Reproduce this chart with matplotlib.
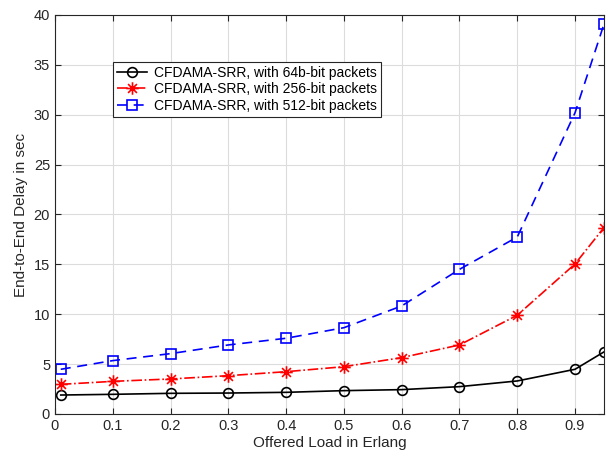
import numpy as np
import matplotlib
matplotlib.use('Agg')
import matplotlib.pyplot as plt
from matplotlib.path import Path

plt.rcParams['font.family'] = ['Liberation Sans', 'DejaVu Sans']

load = [0.01, 0.1, 0.2, 0.3, 0.4, 0.5, 0.6, 0.7, 0.8, 0.9, 0.95]
delay_64 = [1.9, 1.97, 2.07, 2.1, 2.17, 2.34, 2.44, 2.74, 3.31, 4.48, 6.22]
delay_256 = [2.97, 3.27, 3.51, 3.84, 4.24, 4.74, 5.65, 6.92, 9.9, 15.04, 18.68]
delay_512 = [4.48, 5.35, 6.05, 6.92, 7.59, 8.65, 10.83, 14.5, 17.74, 30.2, 39.07]
labels = ['CFDAMA-SRR, with 64b-bit packets',
          'CFDAMA-SRR, with 256-bit packets',
          'CFDAMA-SRR, with 512-bit packets']

# matlab style asterisk: 4 strokes through the centre
verts = []
codes = []
for a in np.deg2rad([90, 0, 45, 135]):
    verts += [(np.cos(a), np.sin(a)), (-np.cos(a), -np.sin(a))]
    codes += [Path.MOVETO, Path.LINETO]
star = Path(verts, codes)

fig = plt.figure(figsize=(6.15, 4.61), dpi=100)
ax = fig.add_axes([0.0894, 0.102, 0.8926, 0.8655])

ax.plot(load, delay_64, color='k', linestyle='-', marker='o', markersize=7,
        markerfacecolor='none', markeredgewidth=1.2, linewidth=1.2, label=labels[0])
ax.plot(load, delay_256, color='r', linestyle='-.', marker=star, markersize=9,
        markeredgewidth=1.2, linewidth=1.2, label=labels[1])
ax.plot(load, delay_512, color='b', linestyle=(0, (6, 4)), marker='s', markersize=6.5,
        markerfacecolor='none', markeredgewidth=1.2, linewidth=1.2, label=labels[2])

ax.set_xlim(0, 0.95)
ax.set_ylim(0, 40)
ax.set_xticks([0, 0.1, 0.2, 0.3, 0.4, 0.5, 0.6, 0.7, 0.8, 0.9])
ax.set_xticklabels(['0', '0.1', '0.2', '0.3', '0.4', '0.5', '0.6', '0.7', '0.8', '0.9'])
ax.set_yticks(range(0, 41, 5))
ax.grid(True, color='#dcdcdc', linewidth=0.8)
ax.set_axisbelow(True)
ax.tick_params(direction='in', labelsize=10.5, colors='#262626', top=True, right=True, length=4)
for s in ax.spines.values():
    s.set_color('#262626')
    s.set_linewidth(0.8)

ax.set_xlabel('Offered Load in Erlang', fontsize=11, color='#262626', labelpad=2)
ax.set_ylabel('End-to-End Delay in sec', fontsize=11, color='#262626', labelpad=4)

leg = ax.legend(loc='upper left', bbox_to_anchor=(0.106, 0.882), fontsize=10,
                fancybox=False, framealpha=1, edgecolor='#262626',
                borderpad=0.25, labelspacing=0.2, handlelength=2.2, handletextpad=0.5,
                borderaxespad=0)
leg.get_frame().set_linewidth(0.8)

fig.savefig('out.png', dpi=100)
